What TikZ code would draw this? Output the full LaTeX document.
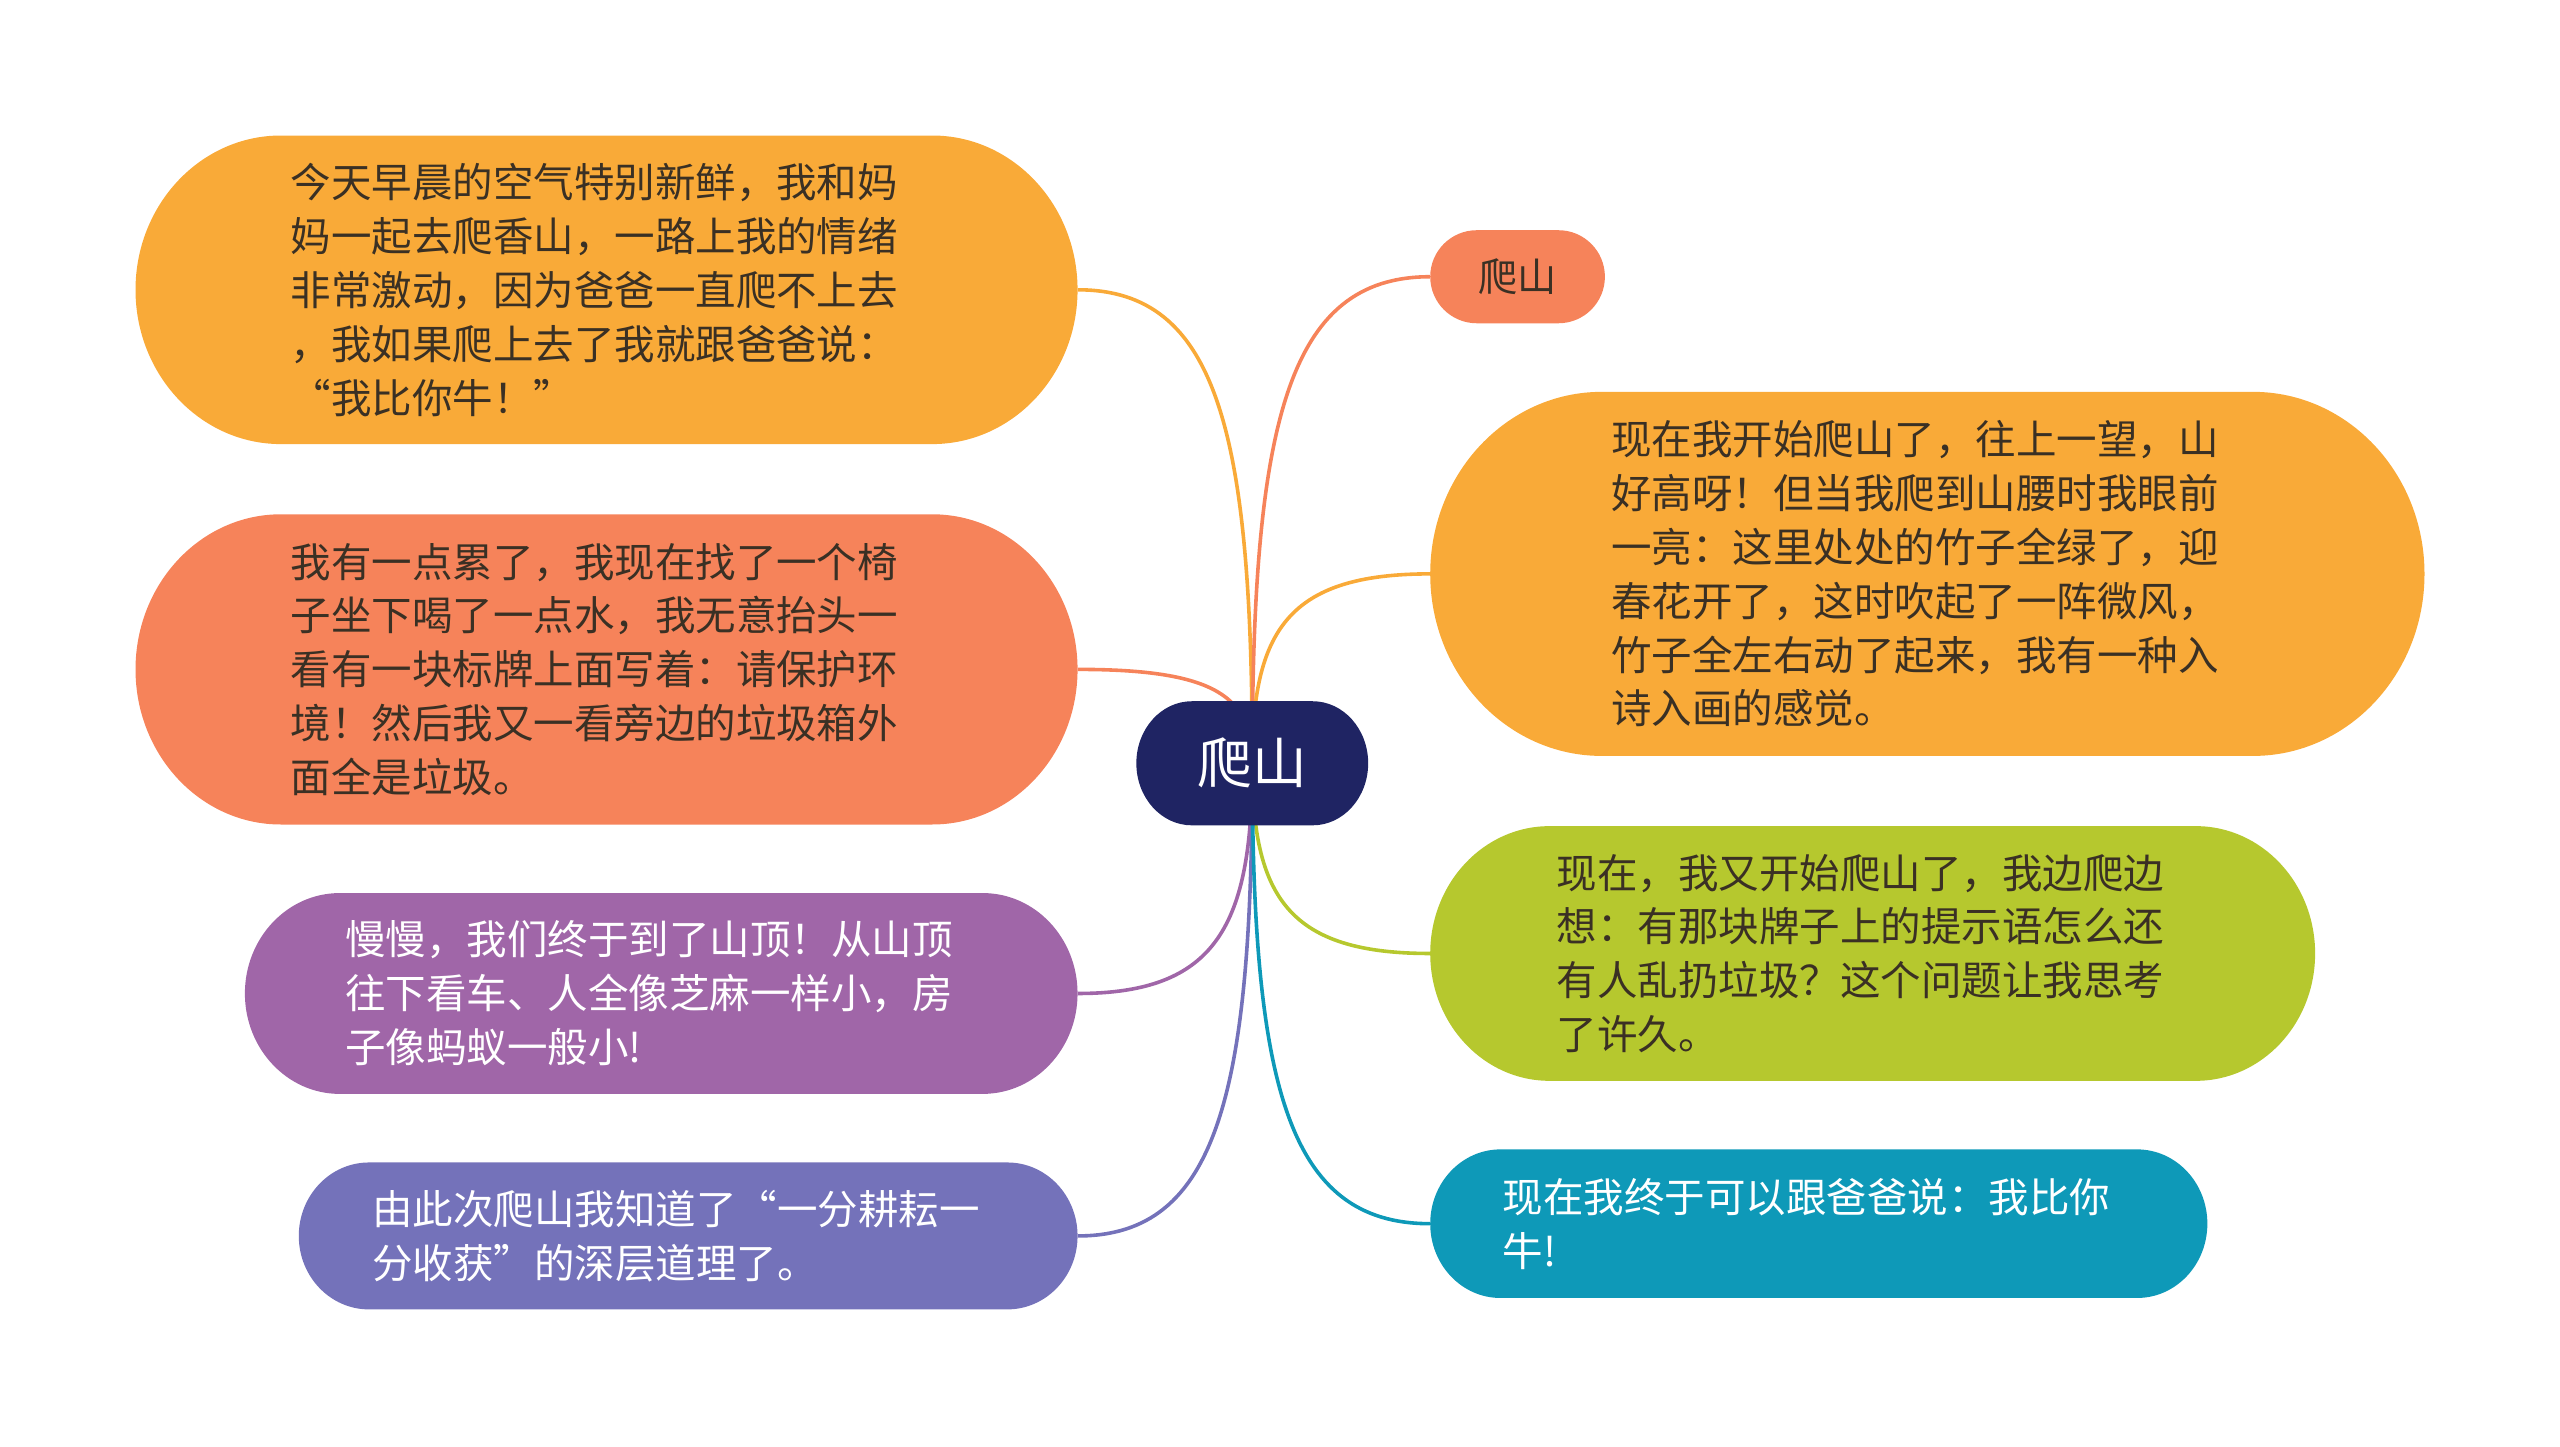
\documentclass[tikz,border=0pt]{standalone}
\usepackage{fontspec}
\newfontfamily\cjk{Noto Sans CJK SC}
\usetikzlibrary{calc}
\definecolor{cOrange}{HTML}{F9AA38}
\definecolor{cCoral}{HTML}{F6835A}
\definecolor{cPurple}{HTML}{A066A8}
\definecolor{cViolet}{HTML}{7472BA}
\definecolor{cGreen}{HTML}{B6C82E}
\definecolor{cTeal}{HTML}{0E99B8}
\definecolor{cNavy}{HTML}{1F2463}
\definecolor{cText}{HTML}{3A3024}
\pgfdeclarelayer{bg}
\pgfsetlayers{bg,main}
\begin{document}
\begin{tikzpicture}[x=1pt,y=-1pt,
  pill/.style n args={3}{path picture={\fill[#1]
      ([xshift=#2pt]path picture bounding box.north west) --
      ([xshift=-#2pt]path picture bounding box.north east)
      arc[start angle=90,end angle=-90,x radius=#2pt,y radius=#3pt] --
      ([xshift=#2pt]path picture bounding box.south west)
      arc[start angle=270,end angle=90,x radius=#2pt,y radius=#3pt] -- cycle;}},
  topic/.style={inner sep=0pt, align=left, text width=387pt,
      font=\cjk\fontsize{24.8}{33}\selectfont},
  dark/.style={text=cText},
  light/.style={text=white},
  link/.style={line width=2.2pt}]
\useasboundingbox (0,0) rectangle (1568,886);

% central topic
\node[inner sep=0pt, minimum width=142pt, minimum height=76pt, pill={cNavy}{34}{38},
      text=white, font=\cjk\fontsize{33.5}{36}\selectfont] (C) at (767,467.5) {爬山};

% left topics
\node[topic, dark, minimum width=577pt, minimum height=189pt, pill={cOrange}{89}{94.5}] (L1) at (371.5,177.5)
 {今天早晨的空气特别新鲜，我和妈\\妈一起去爬香山，一路上我的情绪\\非常激动，因为爸爸一直爬不上去\\，我如果爬上去了我就跟爸爸说：\\“我比你牛！”};
\node[topic, dark, minimum width=577pt, minimum height=190pt, pill={cCoral}{89}{95}] (L2) at (371.5,410)
 {我有一点累了，我现在找了一个椅\\子坐下喝了一点水，我无意抬头一\\看有一块标牌上面写着：请保护环\\境！然后我又一看旁边的垃圾箱外\\面全是垃圾。};
\node[topic, light, minimum width=510pt, minimum height=123pt, pill={cPurple}{58}{61.5}] (L3) at (405,608.5)
 {慢慢，我们终于到了山顶！从山顶\\往下看车、人全像芝麻一样小，房\\子像蚂蚁一般小!};
\node[topic, light, minimum width=477pt, minimum height=90pt, pill={cViolet}{43}{45}] (L4) at (421.5,757)
 {由此次爬山我知道了“一分耕耘一\\分收获”的深层道理了。};

% right topics
\node[inner sep=0pt, minimum width=107pt, minimum height=57pt, pill={cCoral}{28.5}{28.5},
      text=cText, font=\cjk\fontsize{24}{28}\selectfont] (R1) at (929.5,169.5) {爬山};
\node[topic, dark, minimum width=609pt, minimum height=223pt, pill={cOrange}{105}{111.5}] (R2) at (1180.5,351.5)
 {现在我开始爬山了，往上一望，山\\好高呀！但当我爬到山腰时我眼前\\一亮：这里处处的竹子全绿了，迎\\春花开了，这时吹起了一阵微风，\\竹子全左右动了起来，我有一种入\\诗入画的感觉。};
\node[topic, dark, minimum width=542pt, minimum height=156pt, pill={cGreen}{73}{78}] (R3) at (1147,584)
 {现在，我又开始爬山了，我边爬边\\想：有那块牌子上的提示语怎么还\\有人乱扔垃圾？这个问题让我思考\\了许久。};
\node[topic, light, minimum width=476pt, minimum height=91pt, pill={cTeal}{43}{45.5}] (R4) at (1114,749.5)
 {现在我终于可以跟爸爸说：我比你\\牛!};

% connectors
\begin{pgfonlayer}{bg}
\foreach \t/\a/\c in {L1/east/cOrange, L2/east/cCoral, L3/east/cPurple, L4/east/cViolet,
                      R1/west/cCoral, R2/west/cOrange, R3/west/cGreen, R4/west/cTeal}{
  \draw[link, \c] (C.center) .. controls ($(C.center)!0.7!(C.center |- \t.\a)$)
      and ($(C.center |- \t.\a)!0.2!(\t.\a)$) .. (\t.\a);
}
\end{pgfonlayer}
\end{tikzpicture}
\end{document}
